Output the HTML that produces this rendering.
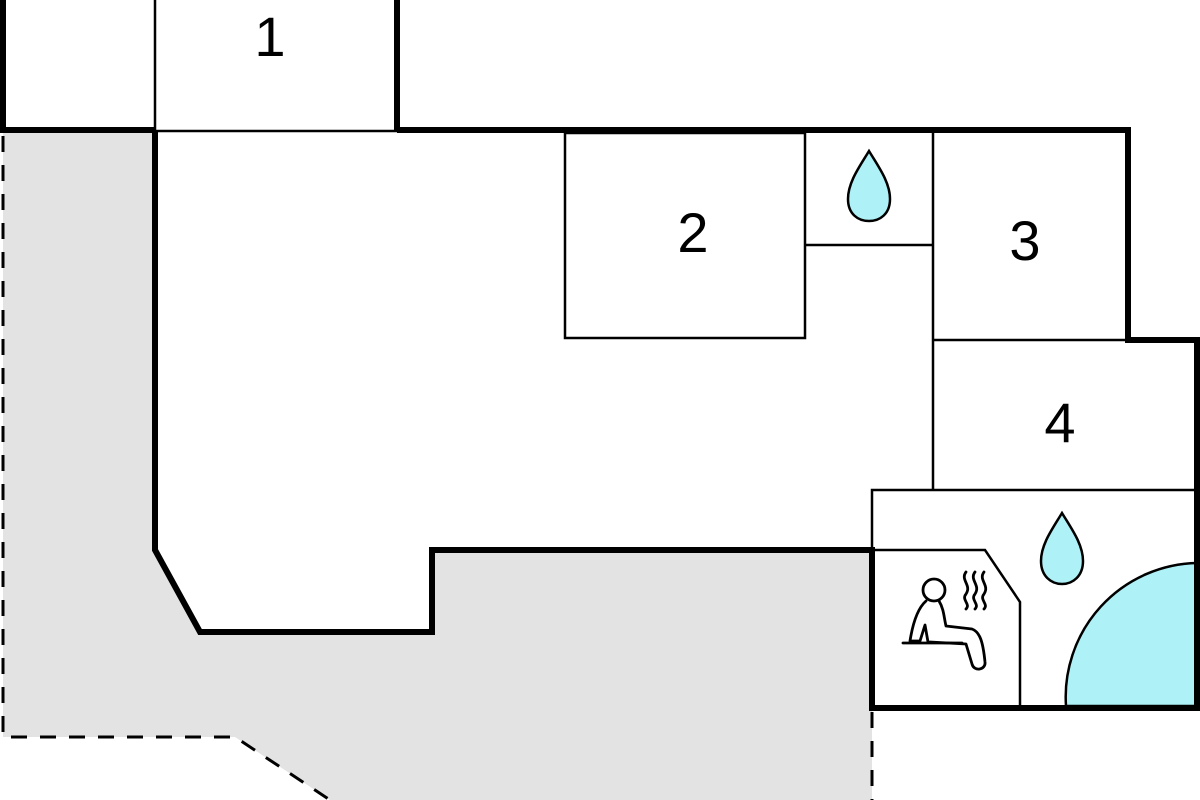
<!DOCTYPE html>
<html><head><style>body{margin:0;background:#fff}svg{display:block}</style></head><body>
<svg width="1200" height="800" viewBox="0 0 1200 800" xmlns="http://www.w3.org/2000/svg">
<polygon points="3,130 155,130 155,550 200,632 432,632 432,550 872,550 872,800 330,800 235,737 3,737" fill="#e3e3e3"/>
<g fill="none" stroke="#000" stroke-width="3" stroke-dasharray="16,13">
<polyline points="3,136 3,737 235,737 330,800"/>
<line x1="872" y1="712" x2="872" y2="800"/>
</g>
<g fill="none" stroke="#000" stroke-width="2.5">
<line x1="155" y1="0" x2="155" y2="130"/>
<line x1="155" y1="131" x2="397" y2="131"/>
<rect x="565" y="133" width="240" height="205"/>
<polyline points="805,245 933,245"/>
<line x1="933" y1="133" x2="933" y2="490"/>
<line x1="933" y1="340" x2="1128" y2="340"/>
<polyline points="872,550 872,490 1197,490"/>
<polyline points="872,550 985,550 1020,602 1020,706"/>
</g>
<path d="M1066,706 A134,134 0 0 1 1197,563 L1197,706 Z" fill="#aef2f7" stroke="#000" stroke-width="2.5"/>
<g fill="none" stroke="#000" stroke-width="6" stroke-linejoin="miter">
<polyline points="3,0 3,130 155,130"/>
<line x1="397" y1="0" x2="397" y2="130"/>
<polyline points="397,130 1128,130 1128,340 1197,340 1197,708 872,708 872,550 432,550 432,632 200,632 155,550 155,130"/>
</g>
<g fill="#aef2f7" stroke="#000" stroke-width="2.5">
<path d="M869,151 C878,166 890,182 890,199 C890,214 880,221 869,221 C858,221 848,214 848,199 C848,182 860,166 869,151 Z"/>
<path d="M1062,513 C1071,528 1083,544 1083,561 C1083,576 1073,584 1062,584 C1051,584 1041,576 1041,561 C1041,544 1053,528 1062,513 Z"/>
</g>
<g fill="none" stroke="#000" stroke-width="2.8" stroke-linecap="round" stroke-linejoin="round">
<circle cx="934" cy="590" r="11"/>
<path d="M926,601 C918,608 913,622 910,641 L920,641 L925,625 L928,642 M939,601 C944,609 944,618 946,626 L972,629 C980,632 983,642 985,662 C986,670 974,672 972,664 L966,644 L930,642"/>
<line x1="903" y1="643" x2="962" y2="643"/>
<path d="M966,572 c-6,8 6,13 0,22 c-5,6 5,10 0,15 M975,572 c-6,8 6,13 0,22 c-5,6 5,10 0,15 M984,572 c-6,8 6,13 0,22 c-5,6 5,10 0,15"/>
</g>
<g font-family="Liberation Sans, sans-serif" font-size="56" text-anchor="middle" fill="#000">
<text x="270" y="56">1</text>
<text x="693" y="252">2</text>
<text x="1025" y="260">3</text>
<text x="1060" y="442">4</text>
</g>
</svg>
</body></html>
